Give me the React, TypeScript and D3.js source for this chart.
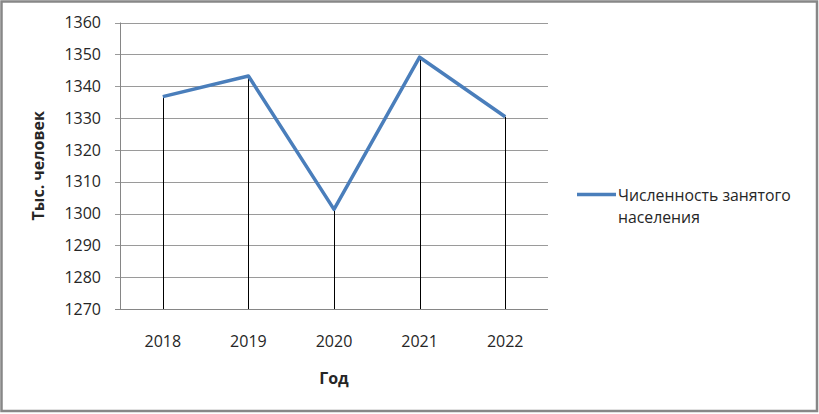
import React from "react";
import * as d3 from "d3";

const years = ["2018", "2019", "2020", "2021", "2022"];
const employed = [1336.7, 1343.2, 1301.3, 1349.1, 1330.4];
const yTicks = [1270, 1280, 1290, 1300, 1310, 1320, 1330, 1340, 1350, 1360];
const seriesName = ["Численность занятого", "населения"];
const xTitle = "Год";
const yTitle = "Тыс. человек";

const W = 819;
const H = 414;
const plot = { left: 120, right: 548, top: 22.5, bottom: 309 };
const font = "'Open Sans', 'Liberation Sans', sans-serif";
const textColor = "#262626";

export default function App() {
  const x = d3.scaleBand<string>().domain(years).range([plot.left, plot.right]);
  const y = d3.scaleLinear().domain([1270, 1360]).range([plot.bottom, plot.top]);
  const cx = (d: string) => (x(d) ?? 0) + x.bandwidth() / 2;
  const line = d3
    .line<number>()
    .x((_, i) => cx(years[i]))
    .y((v) => y(v));

  return (
    <svg
      width={W}
      height={H}
      style={{ position: "absolute", left: 0, top: 0, background: "#fff" }}
    >
      <rect x={0} y={0} width={W} height={H} fill="#fff" />
      <rect
        x={1.5}
        y={1.5}
        width={815.5}
        height={409.5}
        fill="none"
        stroke="#878787"
        strokeWidth={2.5}
      />
      {yTicks.map((t) => (
        <g key={t}>
          <line
            x1={plot.left - 5}
            x2={plot.right}
            y1={Math.round(y(t)) + 0.5}
            y2={Math.round(y(t)) + 0.5}
            stroke={t === 1270 ? "#868686" : "#9a9a9a"}
            strokeWidth={1}
          />
          <text
            x={101}
            y={y(t)}
            dy="0.36em"
            textAnchor="end"
            fontFamily={font}
            fontSize={16}
            fill={textColor}
          >
            {t}
          </text>
        </g>
      ))}
      <line
        x1={plot.left + 0.5}
        x2={plot.left + 0.5}
        y1={plot.top}
        y2={plot.bottom}
        stroke="#868686"
      />
      {years.map((yr, i) => (
        <g key={yr}>
          <line
            x1={Math.round(cx(yr)) + 0.5}
            x2={Math.round(cx(yr)) + 0.5}
            y1={y(employed[i])}
            y2={plot.bottom}
            stroke="#000"
            strokeWidth={1}
          />
          <text
            x={cx(yr)}
            y={347}
            textAnchor="middle"
            fontFamily={font}
            fontSize={16}
            fill={textColor}
          >
            {yr}
          </text>
        </g>
      ))}
      <path
        d={line(employed) ?? ""}
        fill="none"
        stroke="#4a7ebb"
        strokeWidth={3.5}
        strokeLinejoin="round"
      />
      <text
        x={(plot.left + plot.right) / 2}
        y={384}
        textAnchor="middle"
        fontFamily={font}
        fontWeight="bold"
        fontSize={16}
        fill={textColor}
      >
        {xTitle}
      </text>
      <text
        transform={`translate(44, ${(plot.top + plot.bottom) / 2}) rotate(-90)`}
        textAnchor="middle"
        fontFamily={font}
        fontWeight="bold"
        fontSize={16}
        fill={textColor}
      >
        {yTitle}
      </text>
      <line x1={577} x2={616} y1={194.5} y2={194.5} stroke="#4a7ebb" strokeWidth={3.5} />
      {seriesName.map((s, i) => (
        <text
          key={s}
          x={618}
          y={201 + i * 22}
          fontFamily={font}
          fontSize={15.8}
          fill={textColor}
        >
          {s}
        </text>
      ))}
    </svg>
  );
}
